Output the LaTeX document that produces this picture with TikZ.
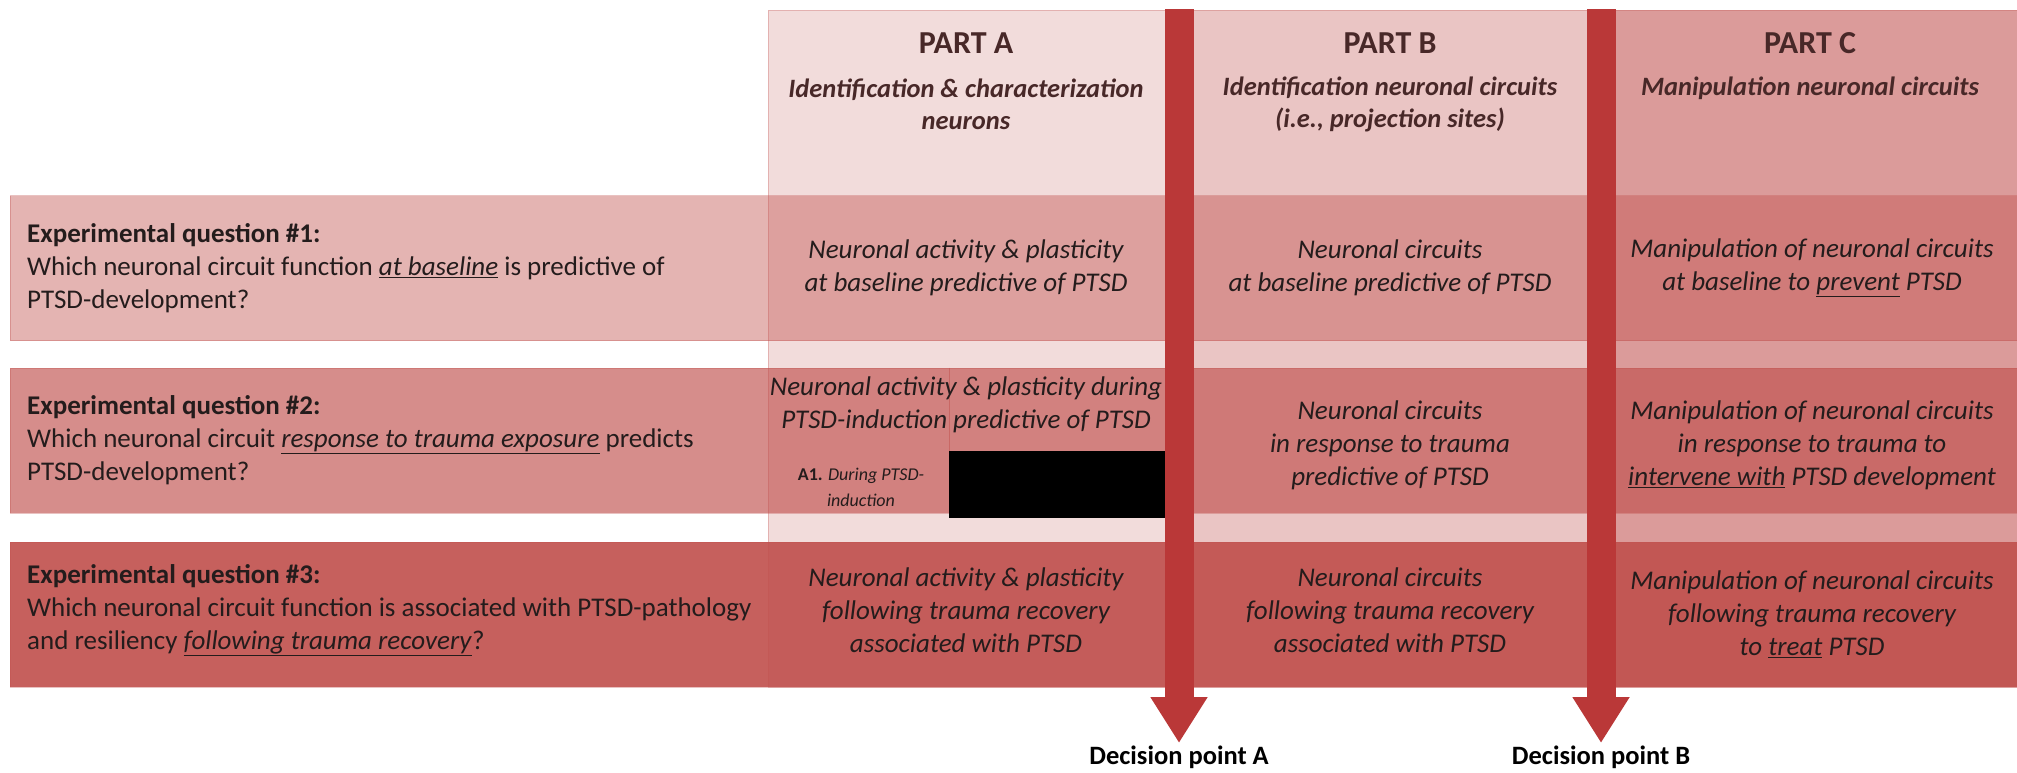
\documentclass[tikz,border=0pt]{standalone}
\usepackage{fontspec}
\setmainfont{Carlito}
\usepackage{xcolor}
\usepackage{tikz}
\usetikzlibrary{arrows.meta, positioning}
\definecolor{qred}{RGB}{192,80,77}
\definecolor{arrowred}{RGB}{186,56,56}
\definecolor{headtext}{RGB}{72,40,40}
\definecolor{celltext}{RGB}{36,28,28}
\newcommand{\undl}[1]{\underline{#1}}

\begin{document}
\begin{tikzpicture}[
    x=1pt, y=-1pt,
    colbox/.style={fill=qred, draw=qred, draw opacity=0.3, line width=0.8pt, minimum height=677pt, inner sep=0pt, anchor=north west},
    rowbox/.style={fill=qred, draw=qred, draw opacity=0.35, line width=0.8pt, minimum width=2015pt, minimum height=145pt, inner sep=0pt, anchor=west},
    head/.style={font=\fontsize{32}{38}\selectfont\bfseries, text=headtext},
    subhead/.style={font=\fontsize{26.5}{32}\selectfont\bfseries\itshape, text=headtext, align=center},
    question/.style={font=\fontsize{27}{33}\selectfont, text=celltext, align=left, anchor=west, inner sep=0pt},
    cell/.style={font=\fontsize{27}{33}\selectfont\itshape, text=celltext, align=center},
    decision/.style={line width=29pt, draw=arrowred, -{Triangle[width=54pt, length=46pt, fill=arrowred]}},
    decnote/.style={font=\fontsize{26.5}{30}\selectfont\bfseries, inner sep=0pt, anchor=north}
]
    \useasboundingbox (0,0) rectangle (2017,772);

    % Columns
    \node[colbox, minimum width=411pt, fill opacity=0.2] (colA) at (768,10) {};
    \node[colbox, minimum width=422pt, fill opacity=0.33] (colB) at (1179,10) {};
    \node[colbox, minimum width=430pt, fill opacity=0.57] (colC) at (1601,10) {};

    % Rows
    \node[rowbox, fill opacity=0.43] (rowA) at (10,268) {};
    \node[rowbox, fill opacity=0.65] (rowB) at (10,440.5) {};
    \node[rowbox, fill opacity=0.91] (rowC) at (10,614.5) {};

    % Redacted part of A1
    \node[fill=black, minimum width=218pt, minimum height=67pt, inner sep=0pt, anchor=north west] (redact) at (949,451) {};
    \draw[qred, draw opacity=0.5, line width=0.8pt] (redact.north west |- rowB.north) -- (redact.north west);

    % Headers
    \node[head] (partA) at (966,43) {PART A};
    \node[subhead] (subA) at (966,104) {Identification \& characterization\\neurons};
    \node[head] (partB) at (1390,43) {PART B};
    \node[subhead] (subB) at (1390,104) {Identification neuronal circuits\\(i.e., projection sites)};
    \node[head] (partC) at (1810,43) {PART C};
    \node[subhead] (subC) at (1810,88) {Manipulation neuronal circuits};

    % Questions
    \node[question] (q1) at (27,268) {\textbf{Experimental question \#1:}\\Which neuronal circuit function \undl{\textit{at baseline}} is predictive of\\PTSD-development?};
    \node[question] (q2) at (27,440.5) {\textbf{Experimental question \#2:}\\Which neuronal circuit \undl{\textit{response to trauma exposure}} predicts\\PTSD-development?};
    \node[question] (q3) at (27,610) {\textbf{Experimental question \#3:}\\Which neuronal circuit function is associated with PTSD-pathology\\and resiliency \undl{\textit{following trauma recovery}}?};

    % Cells
    \node[cell] (c1A) at (966,268) {Neuronal activity \& plasticity\\at baseline predictive of PTSD};
    \node[cell] (c1B) at (1390,268) {Neuronal circuits\\at baseline predictive of PTSD};
    \node[cell] (c1C) at (1812,268) {Manipulation of neuronal circuits\\at baseline to \undl{prevent} PTSD};

    \node[cell] (c2A) at (966,405) {Neuronal activity \& plasticity during\\PTSD-induction predictive of PTSD};
    \node[cell, font=\fontsize{18}{26}\selectfont] (a1) at (861,487) {\textbf{A1.} \textit{During PTSD-}\\\textit{induction}};
    \node[cell] (c2B) at (1390,445) {Neuronal circuits\\in response to trauma\\predictive of PTSD};
    \node[cell] (c2C) at (1812,445) {Manipulation of neuronal circuits\\in response to trauma to\\\undl{intervene with} PTSD development};

    \node[cell] (c3A) at (966,610) {Neuronal activity \& plasticity\\following trauma recovery\\associated with PTSD};
    \node[cell] (c3B) at (1390,610) {Neuronal circuits\\following trauma recovery\\associated with PTSD};
    \node[cell] (c3C) at (1812,614) {Manipulation of neuronal circuits\\following trauma recovery\\to \undl{treat} PTSD};

    % Decision points
    \coordinate (topA) at (1179,9);
    \coordinate (topB) at (1601,9);
    \node[decnote] (decA) at (1179,746) {Decision point A};
    \node[decnote] (decB) at (1601,746) {Decision point B};
    \draw[decision] (topA) -- ([yshift=3pt]decA.north);
    \draw[decision] (topB) -- ([yshift=3pt]decB.north);
\end{tikzpicture}
\end{document}
